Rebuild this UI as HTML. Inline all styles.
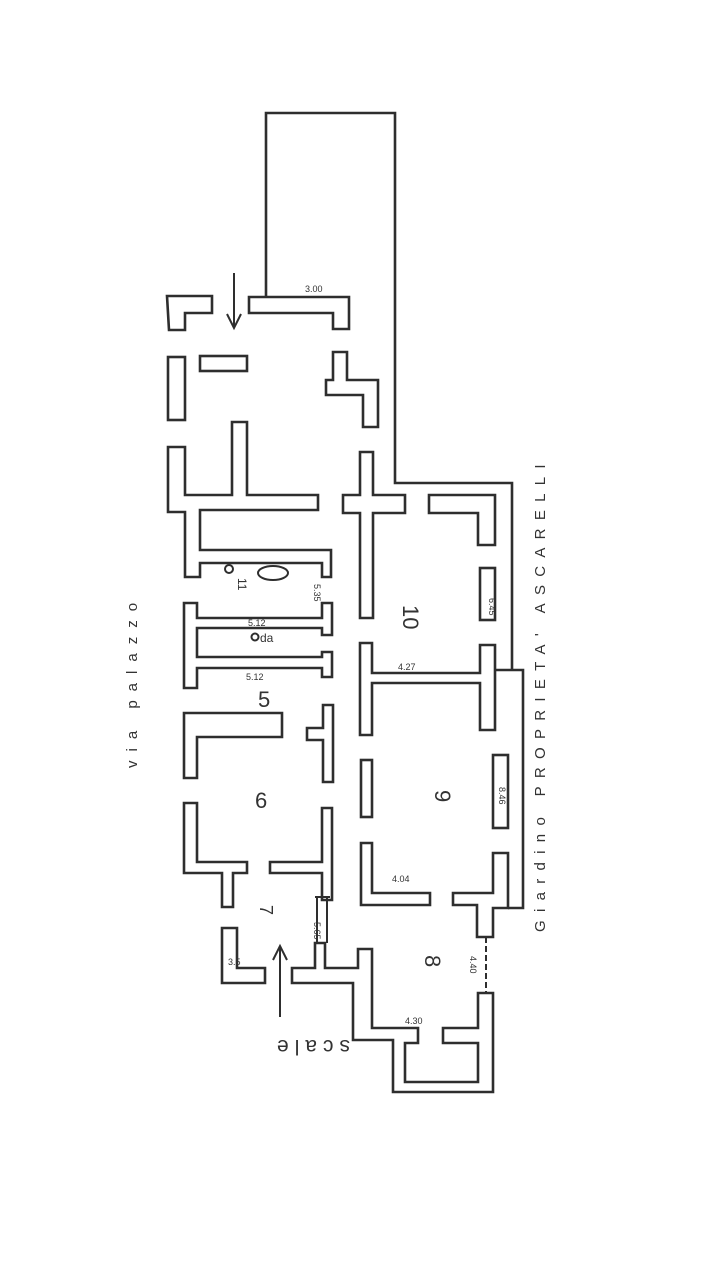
<!DOCTYPE html>
<html><head><meta charset="utf-8"><style>
html,body{margin:0;padding:0;background:#fff;}
svg{display:block;}
text{font-family:"Liberation Sans",sans-serif;fill:#333;}
</style></head><body>
<svg width="708" height="1286" viewBox="0 0 708 1286" xmlns="http://www.w3.org/2000/svg">
<rect width="708" height="1286" fill="#fff"/>
<g fill="#fff" stroke="#2e2e2e" stroke-width="2.6" stroke-linejoin="miter">
<polyline points="266,296 266,113 395,113 395,483 512,483 512,670" fill="none"/>
<polygon points="167,296 212,296 212,313 185,313 185,330 169,330"/>
<polygon points="249,297 349,297 349,329 333,329 333,313 249,313"/>
<rect x="200" y="356" width="47" height="15"/>
<rect x="168" y="357" width="17" height="63"/>
<polygon points="333,352 347,352 347,380 378,380 378,427 363,427 363,395 326,395 326,380 333,380"/>
<polygon points="168,447 185,447 185,495 232,495 232,422 247,422 247,495 318,495 318,510 200,510 200,550 331,550 331,577 322,577 322,563 200,563 200,577 185,577 185,512 168,512"/>
<polygon points="184,603 197,603 197,618 322,618 322,603 332,603 332,635 322,635 322,628 197,628 197,657 322,657 322,652 332,652 332,677 322,677 322,668 197,668 197,688 184,688"/>
<polygon points="184,713 282,713 282,737 197,737 197,778 184,778"/>
<polygon points="323,705 333,705 333,782 323,782 323,740 307,740 307,728 323,728"/>
<polygon points="184,803 197,803 197,862 247,862 247,873 233,873 233,907 222,907 222,873 184,873"/>
<polygon points="322,808 332,808 332,900 322,900 322,873 270,873 270,862 322,862"/>
<polygon points="360,452 373,452 373,495 405,495 405,513 373,513 373,618 360,618 360,513 343,513 343,495 360,495"/>
<polygon points="429,495 495,495 495,545 478,545 478,513 429,513"/>
<rect x="480" y="568" width="15" height="52"/>
<polygon points="360,643 372,643 372,673 480,673 480,645 495,645 495,730 480,730 480,683 372,683 372,735 360,735"/>
<rect x="361" y="760" width="11" height="57"/>
<polygon points="361,843 372,843 372,893 430,893 430,905 361,905"/>
<rect x="493" y="755" width="15" height="73"/>
<polygon points="493,853 508,853 508,908 493,908 493,937 477,937 477,905 453,905 453,893 493,893"/>
<polyline points="495,670 523,670 523,908 508,908" fill="none"/>
<polygon points="222,928 237,928 237,968 265,968 265,983 222,983"/>
<polygon points="478,993 493,993 493,1092 393,1092 393,1040 353,1040 353,983 292,983 292,968 315,968 315,943 325,943 325,968 358,968 358,949 372,949 372,1028 418,1028 418,1043 405,1043 405,1082 478,1082 478,1043 443,1043 443,1028 478,1028"/>
</g>
<g stroke="#2e2e2e" stroke-width="2" fill="none">
<line x1="317" y1="897" x2="317" y2="943"/>
<line x1="327" y1="897" x2="327" y2="943"/>
<line x1="315" y1="897" x2="330" y2="897"/>
<line x1="486" y1="937" x2="486" y2="993" stroke-dasharray="6,3"/>
<line x1="234" y1="273" x2="234" y2="327"/>
<polyline points="227,314 234,328 241,314"/>
<line x1="280" y1="1017" x2="280" y2="946"/>
<polyline points="273,960 280,946 287,960"/>
<ellipse cx="273" cy="573" rx="15" ry="7"/>
<circle cx="229" cy="569" r="4"/>
<circle cx="255" cy="637" r="3.5"/>
</g>
<g font-size="9">
<text x="305" y="292">3.00</text>
<text x="248" y="626">5.12</text>
<text x="246" y="680">5.12</text>
<text x="398" y="670">4.27</text>
<text x="392" y="882">4.04</text>
<text x="405" y="1024">4.30</text>
<text x="228" y="965">3.5</text>
<text transform="translate(489,598) rotate(90)">6.45</text>
<text transform="translate(499,787) rotate(90)">8.46</text>
<text transform="translate(470,956) rotate(90)">4.40</text>
<text transform="translate(314,584) rotate(90)">5.35</text>
<text transform="translate(314,922) rotate(90)">5.65</text>
</g>
<g font-size="22">
<text x="258" y="707">5</text>
<text x="255" y="808">6</text>
<text transform="translate(403,605) rotate(90)">10</text>
<text transform="translate(435,790) rotate(90)">9</text>
<text transform="translate(425,955) rotate(90)">8</text>
<text transform="translate(260,905) rotate(90)" font-size="18">7</text>
</g>
<text transform="translate(238,578) rotate(90)" font-size="12">11</text>
<text x="260" y="642" font-size="12">da</text>
<text transform="translate(137,768) rotate(-90)" font-size="15" letter-spacing="9">via palazzo</text>
<text transform="translate(545,932) rotate(-90)" font-size="15" letter-spacing="8.3">Giardino PROPRIETA' ASCARELLI</text>
<text transform="translate(350,1040) rotate(180)" font-size="21" letter-spacing="6">scale</text>
</svg>
</body></html>
